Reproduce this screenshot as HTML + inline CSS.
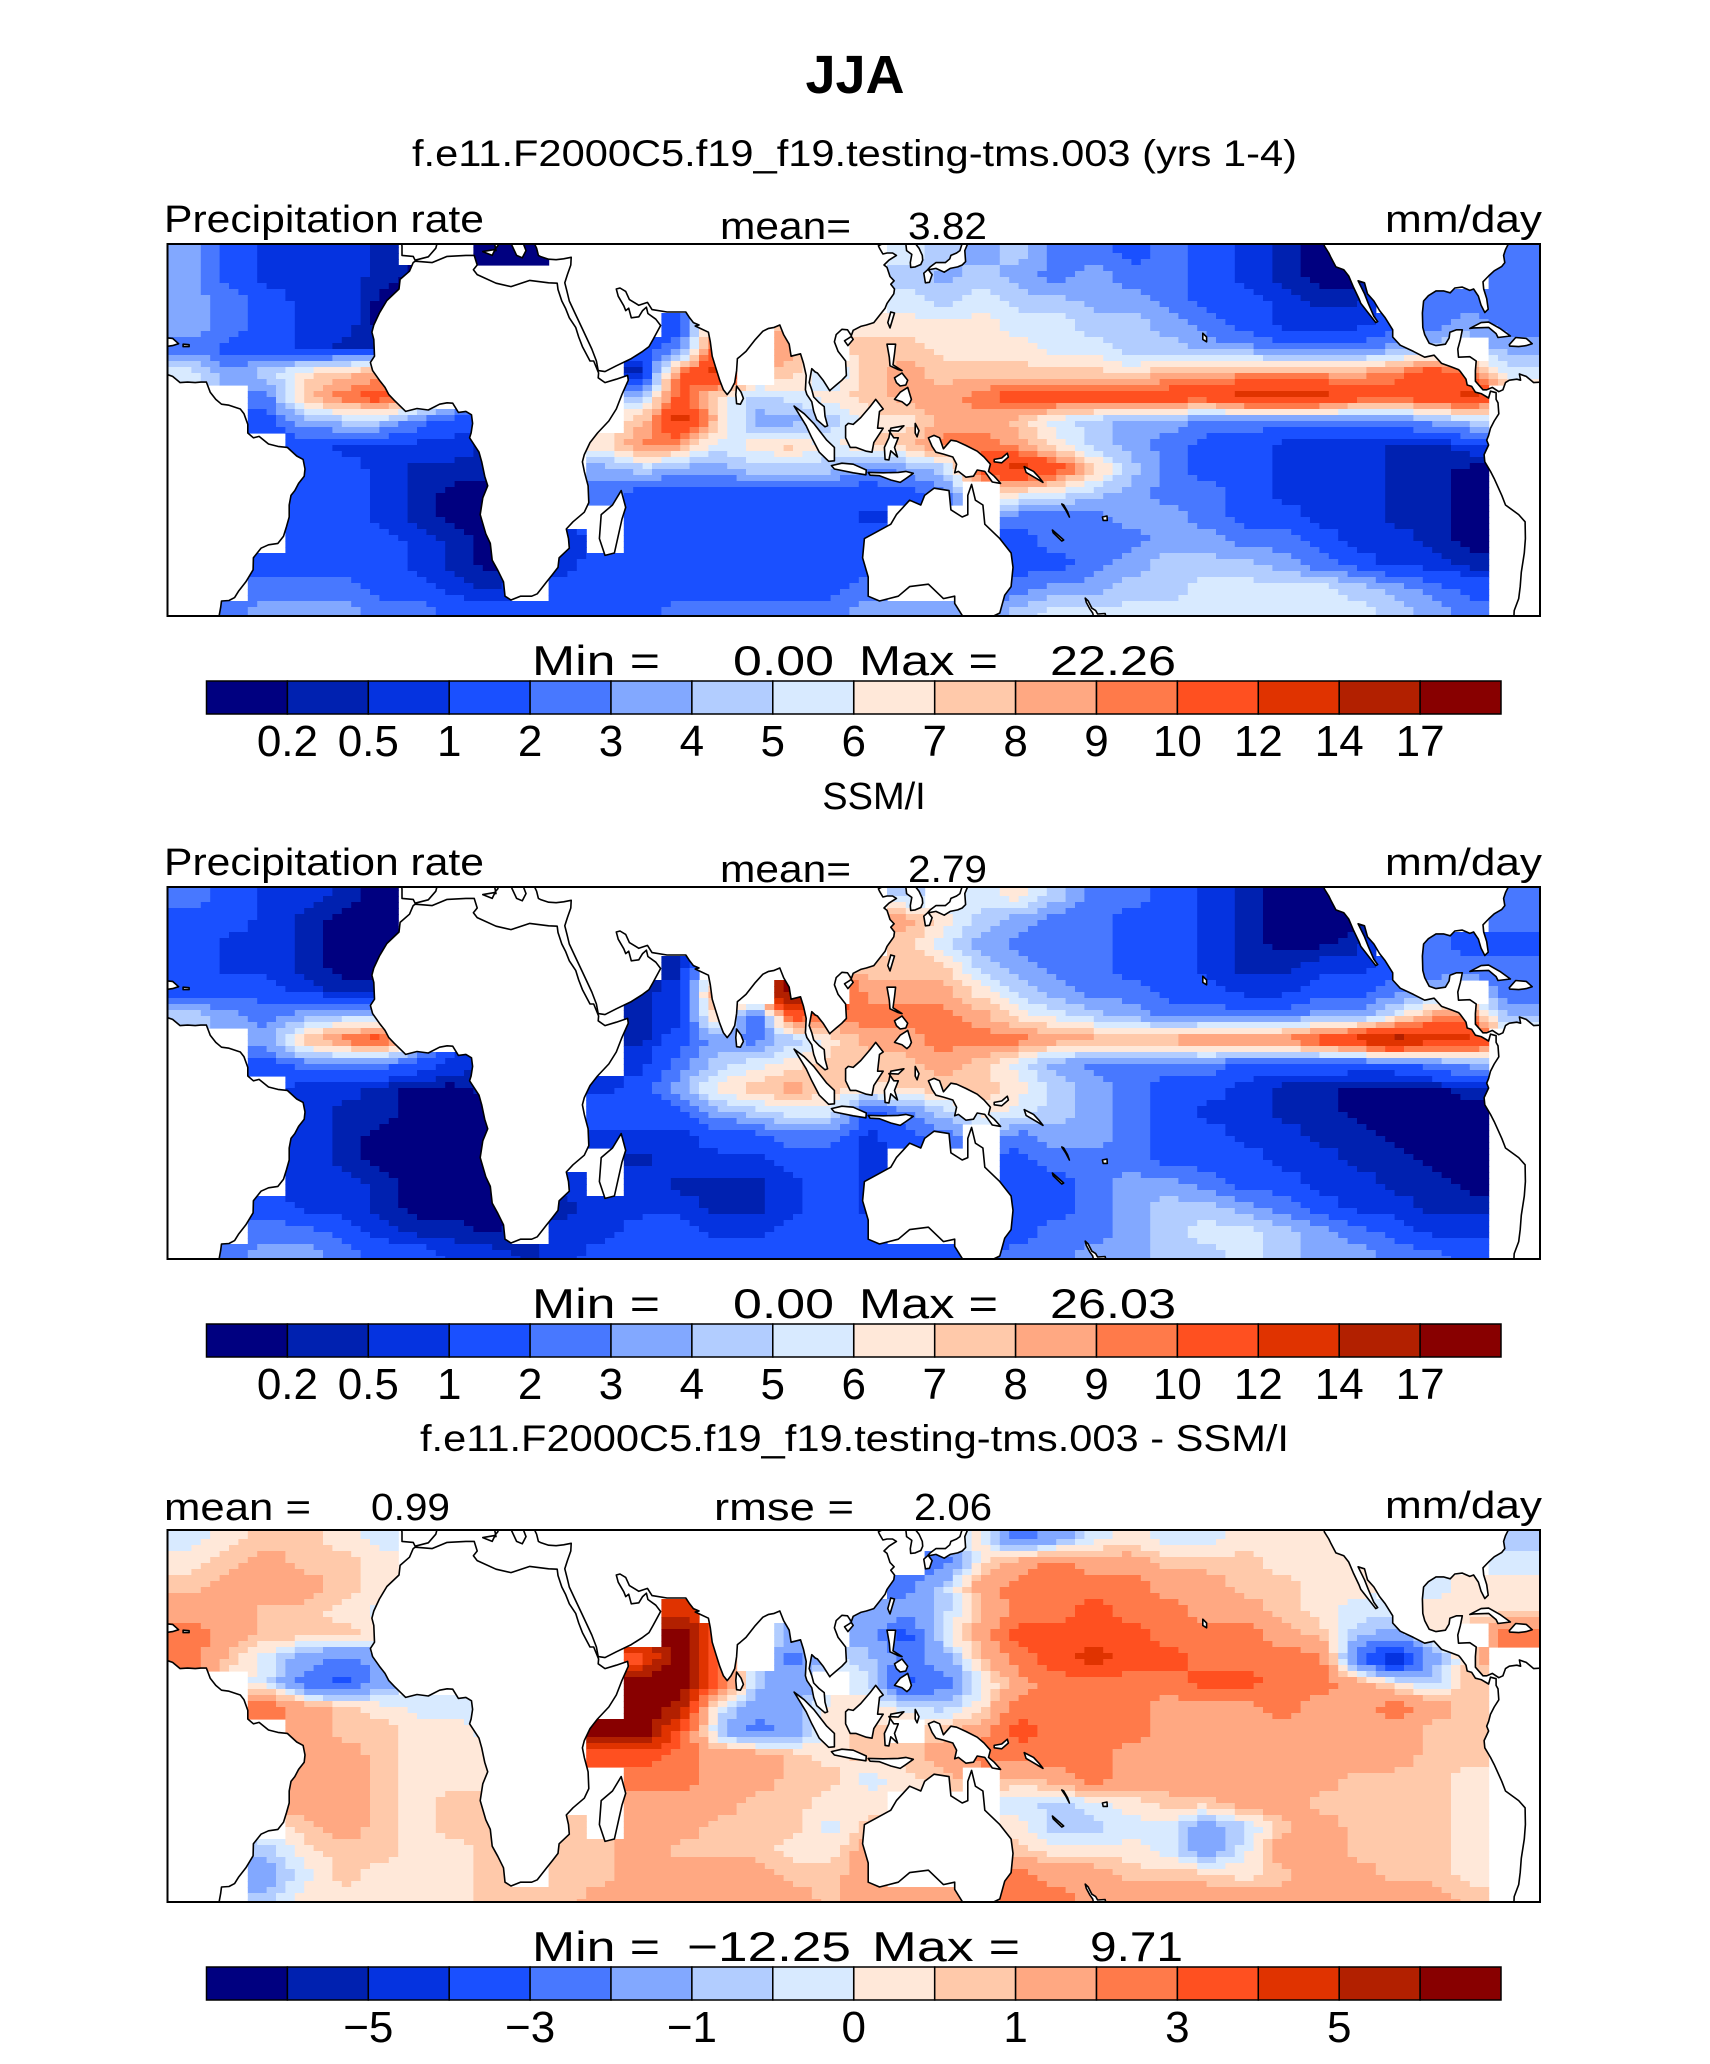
<!DOCTYPE html>
<html><head><meta charset="utf-8"><title>JJA precipitation</title>
<style>
html,body{margin:0;padding:0;background:#fff;}
svg{display:block;font-family:"Liberation Sans",sans-serif;}
</style></head>
<body>
<svg id="fig" xmlns="http://www.w3.org/2000/svg" width="1710" height="2064" viewBox="0 0 1710 2064">
<rect x="0" y="0" width="1710" height="2064" fill="#fff"/>
<text x="855" y="93" text-anchor="middle" font-size="54" font-weight="bold">JJA</text>
<text x="412" y="166" font-size="37" textLength="885" lengthAdjust="spacingAndGlyphs">f.e11.F2000C5.f19_f19.testing-tms.003 (yrs 1-4)</text>
<text x="874" y="809" text-anchor="middle" font-size="38">SSM/I</text>
<text x="420" y="1451" font-size="37" textLength="869" lengthAdjust="spacingAndGlyphs">f.e11.F2000C5.f19_f19.testing-tms.003 - SSM/I</text>
<g id="maps"></g>
</svg>
<script>
// ---------- data ----------
const precipBounds = [0.2,0.5,1,2,3,4,5,6,7,8,9,10,12,14,17];
const precipMids = [0.1,0.35,0.75,1.5,2.5,3.5,4.5,5.5,6.5,7.5,8.5,9.5,11,13,15.5,19];
const diffBounds = [-6,-5,-4,-3,-2,-1,-0.5,0,0.5,1,2,3,4,5,6];
const diffMids = [-7,-5.5,-4.5,-3.5,-2.5,-1.5,-0.75,-0.25,0.25,0.75,1.5,2.5,3.5,4.5,5.5,7];
const precipTickLabels = ["0.2","0.5","1","2","3","4","5","6","7","8","9","10","12","14","17"];
const diffTickValues = [-5,-3,-1,0,1,3,5];
const diffTickLabels = ["\u22125","\u22123","\u22121","0","1","3","5"];
const colors = ['#000080','#0021b0','#0533e0','#1a50ff','#4878ff','#82a8ff','#b2cdff','#d8eaff','#ffe8d9','#ffc9aa','#ffa882','#ff7a4a','#ff5020','#e03300','#b22000','#880000'];
// grid: columns lon -70..290 step 10, rows lat 40..-40 step 5; hex code = level, '.' = land
const modelGrid = [
"532221..00"+"........"+".765644343210....4",
"5322210..."+"........"+".6565454432100...4",
"543220...."+"........"+".7676655433211.444",
"543220...."+"...3a.9."+"888877665432223454",
"433211...."+"..34c.a."+"9988877665544456.5",
"75689a...."+"..1bd.96"+"9a999998aaaaaabcb7",
"..49bcb..."+"..6c8678"+"9aabccccccdddcccd.",
"..356643.."+"..9d9556"+"88aa9765544444456.",
"...322221."+".8ba7897"+"99bba865433222112.",
"...332111."+".5655666"+"456cdc96433222110.",
"...332100."+".4333333"+"334.8765443222110.",
"...332100."+"..333333"+"2...4445543322110.",
"...333210."+"2.333333"+"3...3444554432210.",
"..3333210."+"23333333"+"3...3345666543221.",
"..4443321."+"33333333"+"4...4556677776543.",
".455544333"+"33344444"+"55546777777777654."
];
const obsGrid = [
"432210...."+"........"+".6.7864432100....4",
"332100...."+"........"+".a865443321000...4",
"322100...."+"........"+".9754443321001.433",
"322100...."+"...1...."+"999654433211223444",
"333211...."+"..12b.f."+"aaa8654433223345.4",
"654566...."+"..1293cb"+"bbba87654444557ab5",
"..59bc...."+"..135468"+"aabbbaaaabbbcdedd.",
"..344432.."+"..246789"+"99a97544443333345.",
"...221001."+".23589a9"+"89998654332110001.",
"...211000."+".3335677"+"34687654322110000.",
"...210000."+".2223344"+"234.4554332211000.",
"...210000."+"..122233"+"2...3444333221100.",
"...221000."+"2.211123"+"2...3345543322110.",
"..3221000."+"12221123"+"2...3345665432211.",
"..4432110."+"22332233"+"3...3445677654322.",
".455433221"+"23333333"+"33334455667655443."
];
const diffGrid = [
"789987...."+"........"+"...8457877888....6",
"89a998...."+"........"+"..48abaa999888...7",
"9aaa98...."+"........"+".46abbbbaa9988.788",
"aa9987...."+"...d...."+"5569bbcbbaa9877888",
"ba9998...."+"...fc.5."+"537accccbbba9658.b",
"b97545...."+"..cfb.47"+"6459bcdccbbbb4159.",
"..7435...."+"..ffc65."+"7347abbbbccbba869.",
"..ba9877.."+"..fe7558"+"8768bbbbaaabaaba9.",
"...a99887."+".ffc6458"+"9.9acbbbaaaaaaa99.",
"...aa9888."+".ccbaa98"+"99abbbbaaaaaaaa99.",
"...aa9888."+"..bbaa99"+"789.9abaaaaaa9998.",
"...aa9899."+"..aaa998"+"8...767899aa99998.",
"...9a9899."+"9.aa9997"+"9...86677569a9998.",
"..6899889."+"99a99988"+"a...9888757aa9998.",
"..5798889."+"99aaaa99"+"a...baa99989aa998.",
"..68888899"+"9aaaaaa9"+"aaaabbaaaaaaaaaa9."
];
const headerValues = [["3.82"],["2.79"],["0.99","2.06"]];
const minMax = [["0.00","22.26"],["0.00","26.03"],["\u221212.25","9.71"]];

// ---------- land outlines (lon, lat) ----------
const land = {
 africa:[[32.3,31.2],[30,31.3],[25,31.8],[20,30.5],[16,31.2],[11,33],[10,34],[11,35],[10.2,37],[8,37],[3,36.8],[-1,35.5],[-5.5,35.8],[-6,35.5],[-7,33.7],[-9.5,32],[-9.8,30],[-13,27.6],[-15,25],[-16.5,22.5],[-17,21],[-16.5,19.5],[-16.3,16],[-17.4,14.7],[-16.8,13],[-15,11],[-13.5,9.5],[-12.5,8],[-11,6.8],[-8,4.5],[-5,5.1],[-2,4.8],[1,6],[3,6.3],[4.5,6.2],[6,4.3],[8,4.5],[9.5,3.8],[9.8,2],[9.4,0],[9,-1],[11.5,-4],[12.2,-6],[13,-9],[13.8,-11],[12.5,-13.5],[11.8,-17],[13.3,-21],[14.5,-23],[15,-26.5],[16.5,-28.6],[18,-31],[18.4,-34],[20,-34.8],[22.5,-34],[25.5,-34],[27,-33.5],[29.5,-31],[31,-29.5],[32.5,-28],[32.8,-26],[35.5,-24],[35.3,-22],[34.7,-20],[36.5,-18.5],[39.5,-16.5],[40.7,-14.5],[40.5,-11],[39.5,-8],[39,-6],[39.5,-4.5],[41,-2],[43,0],[46,2.5],[48,5],[49.5,8],[51.2,11],[51,12],[48,11.2],[45,10.5],[43.2,11.5],[43.3,12.5],[42,15],[41,15],[39,18],[38,20],[37.2,22],[35.5,24],[34.5,26],[33.5,27.5],[32.5,29.9]],
 eurasia:[[-10,42],[-9,39],[-9,37],[-6,36.8],[-5.5,36],[-2,36.7],[0,38.5],[0.5,40],[3,42],[15,42],[16,38],[15.6,38],[15,37],[12.5,37.8],[15.6,38.2],[16.5,39],[17,40.3],[18.5,40.2],[20,42],[20,39.5],[21.5,37],[23,36.5],[24,38],[23,40],[26,40.5],[26.2,39.5],[26.8,38.5],[27.3,37],[28,36.7],[30,36.2],[32,36.1],[34,36.3],[36,36.6],[35.9,35],[35,33],[34.3,31.3],[34.9,29.5],[35.5,27.5],[37,25],[38.8,22],[40,20],[41.5,17.5],[42.7,15],[43.2,13],[45,12.8],[48,14],[52,15.5],[55,17],[56.7,18],[57.8,19.5],[59.8,22.4],[58.5,23.7],[56.4,24.9],[56,26.2],[55,25.5],[54,24.2],[52,24],[51.3,26],[50.5,25.5],[50,26.5],[48.5,28.5],[48,30],[49,30.2],[50.5,29.5],[51.5,27.8],[54,26.6],[56.3,27.2],[57.5,25.7],[61.5,25.2],[66.5,25.2],[67.5,24],[68.5,23],[70,22.5],[69,22.3],[72.5,21],[73,19],[73.5,16],[74.5,13.5],[75.5,11],[76.5,9],[77.5,8],[78.5,9],[79.5,10.5],[80,13],[80.2,15.5],[81,16],[82.5,17],[85,19.5],[87,21.2],[88.5,21.8],[90,22],[91.5,22.5],[92.5,20.5],[94,18.5],[94.5,16],[97,16.5],[97.8,14.5],[98.5,12],[98.3,9],[98.7,8],[100,6.5],[100.5,4.5],[101.3,2.8],[103.5,1.3],[104.2,1.5],[103.5,3.5],[103.3,5.5],[102,6.3],[100.5,7.5],[100,9],[99.3,10.5],[100,13.4],[100.9,12.7],[101.5,12.5],[103,11],[104.8,8.8],[105,9],[106.5,10],[108,11],[109.2,12],[109,15],[107,17],[106,19],[106.5,20.5],[108,21.6],[109.5,21.5],[110.5,20.3],[111,21.4],[113,22.2],[114.5,22.5],[116.5,23],[118,24.5],[119.5,26],[120,27],[121.8,29],[122,30],[121,31],[121.9,31.7],[120.8,32.6],[120,34.5],[119.2,35],[120.5,36],[122.5,37],[121.5,37.5],[120,37.5],[118.9,37.3],[118,38.5],[117.7,39],[119,39.5],[121,40.5],[122.3,40.5],[124.2,39.9],[125,39.5],[125.2,38],[126.6,37.2],[126.2,35.5],[126.3,34.5],[127.5,34.6],[129,35.1],[129.5,36],[129.4,37],[128.5,38.5],[127.5,39.5],[128.5,40.5],[129.5,42]],
 japan:[[130.2,31.3],[131.3,31.4],[132,33],[131,34],[133,34.3],[135.2,33.5],[136.8,34.3],[138.8,34.6],[140,35],[140.9,35.7],[140.7,38],[141.5,39.5],[142,40],[142,42],[139.9,42],[140,39.5],[139.4,38],[138.5,37.5],[137,37],[136.7,36.3],[135.5,35.5],[133,35.5],[131.5,34.6],[130.8,34],[129.8,33.3]],
 taiwan:[[120.2,23],[121,25.2],[122,25],[120.8,21.9]],
 hainan:[[108.7,19.2],[110.5,20.1],[111,19.5],[109.6,18.2]],
 luzon:[[120,18.5],[122.3,18.5],[122,16.5],[121.6,14.2],[124,13],[123,13.2],[120.8,14],[120.6,15.8]],
 visayas:[[122,11.5],[124,12.5],[125.5,11],[125,10],[123.5,9.8],[122.5,10.5]],
 mindanao:[[122,7],[123.5,8.5],[125.5,9.5],[126.5,7],[126,6.2],[125.3,5.7],[124,6.5]],
 srilanka:[[80,9.8],[81.2,8.5],[81.8,7.2],[81,6],[80,6.1],[79.8,8]],
 madagascar:[[49.3,-12],[50.5,-15.5],[49.5,-18],[47.5,-25],[45,-25.5],[43.5,-22],[44,-17],[47,-15]],
 sumatra:[[95.3,5.6],[98,4],[100.5,2],[104,-1.5],[106,-3],[106,-5.8],[104.5,-5.9],[102,-4],[100,-1],[98.5,1.5]],
 java:[[105.2,-6.8],[108,-6.3],[111,-6.5],[114.5,-7.7],[114.4,-8.7],[111,-8.3],[106,-7.5]],
 lessersunda:[[115,-8.2],[119,-8.3],[123,-8.2],[125,-8],[127,-8.4],[125,-9.5],[123.5,-10.3],[121,-9.8],[118,-8.9],[115.5,-8.8]],
 borneo:[[109,1.5],[109.7,2],[111,1.8],[113,3.2],[115.5,5.5],[117,7],[119,5],[118,4.5],[117.5,1],[119,1],[116.5,-2],[116,-4],[114.5,-3.8],[111.7,-3],[110.2,-3],[109,-1]],
 sulawesi:[[119.5,-5.5],[119.3,-3],[120.5,-1],[121,1],[124.5,1.5],[123,0.4],[120.5,0.5],[121.8,-1],[123,-1],[122,-3],[122.8,-5],[121,-3.7],[120.5,-5.6]],
 halmahera:[[127.5,2],[128.5,0.5],[128,-0.8],[127.5,0]],
 newguinea:[[131,-1],[132.5,-0.5],[134,-1],[135,-3.3],[137,-1.5],[138.5,-1.7],[141,-2.6],[144,-3.8],[145.8,-5],[147.5,-6.5],[147,-8],[148.5,-9],[150.2,-10.5],[148,-10.2],[146,-8],[144,-7.7],[143,-9],[141,-9.2],[139,-8],[138,-8.3],[138.5,-6.5],[137.5,-5],[135,-4.4],[133,-4],[132,-2.8]],
 newbritain:[[148.5,-5.5],[150.5,-5.2],[152,-4.2],[152.3,-5],[150.5,-6.2],[148.5,-6]],
 solomons:[[156.5,-7],[159,-8],[160.5,-9.3],[161.5,-10.3],[160,-9.6],[157,-8.2]],
 vanuatu:[[166.5,-14.8],[167.5,-16],[168.5,-17.5],[168,-16.4],[167,-15]],
 newcaledonia:[[164,-20.2],[167,-22.3],[166.5,-22.5],[164.2,-20.8]],
 fiji:[[177.3,-17.5],[178.5,-17.3],[178.6,-18.2],[177.5,-18.2]],
 australia:[[114,-22],[113.5,-26],[115,-30],[115,-34],[118,-35],[123,-34],[126,-32],[131,-31.5],[135,-34.5],[138,-34],[138,-35.5],[140,-38],[141,-38.5],[144,-38.2],[146,-39],[150,-37.5],[151.3,-33.8],[153,-32],[153.5,-28],[153,-25],[150,-22],[146,-19],[145.5,-15],[143.5,-14],[142.5,-10.7],[141.5,-13],[141.5,-17],[140,-17.5],[137,-16],[136.5,-12],[132.5,-11.5],[130,-13],[129,-15],[126,-14],[122.5,-17],[121,-19],[117,-20.7]],
 nz:[[172.7,-34.4],[173.5,-35],[174.5,-36.5],[175.5,-37],[176,-37.7],[178,-37.6],[178.3,-38.5],[177,-39.3],[176,-40],[174.8,-41.5],[174.3,-39.5],[175,-38.5],[174.7,-37.5],[174,-36.7],[173,-35.3]],
 southamericaWest:[[-72,12.5],[-71.8,12.3],[-70,11.8],[-68,10.5],[-66,10.6],[-64,10.5],[-62.5,10.6],[-61,10.6],[-60,8.5],[-58.5,7],[-57,6],[-55,5.8],[-52,5],[-51,4],[-50,1.8],[-50,0],[-48.5,-1],[-47,-0.7],[-44.5,-2.3],[-42,-2.8],[-39.5,-3],[-37,-4.8],[-35.3,-5.5],[-34.8,-7.5],[-35,-9],[-36.5,-10.5],[-37.5,-12],[-38.5,-13],[-39,-15],[-39,-17.5],[-39.7,-19.5],[-40.5,-21.5],[-42,-23],[-44.5,-23.3],[-46.5,-24],[-48.5,-26],[-48.6,-28.5],[-50.5,-31],[-52.5,-33],[-53.5,-34.3],[-55,-34.9],[-57,-35],[-57.2,-36.3],[-57.6,-38],[-59,-38.8],[-62,-39],[-62.5,-42],[-80,-42],[-80,12.5]],
 hispaniolaW:[[-74.5,18.4],[-72.8,19.9],[-70,19.7],[-68.4,18.6],[-70,18.2],[-72,18],[-74.4,18.1]],
 puertoricoW:[[-67.2,18.5],[-65.6,18.4],[-65.6,18],[-67.2,18]]
};
const americasEast = [[-124,42],[-123.7,39],[-122.5,37.5],[-121.9,36.5],[-120.6,34.6],[-118.5,34],[-117.2,32.7],[-116,30.5],[-114.5,28],[-114,27],[-112,25],[-110,23],[-109.5,23.2],[-110.5,24.3],[-112,27],[-113,29],[-114.7,31.7],[-113,31.3],[-112.2,29],[-110.5,27.5],[-109,25.5],[-107.5,24],[-105.5,21.5],[-105.5,20],[-103.5,18.3],[-100,17],[-97,15.8],[-94.5,16.2],[-92.5,14.5],[-90,13.8],[-88,13.2],[-87.5,12.8],[-86,11.2],[-85.7,10],[-84.5,9.7],[-83.5,8.5],[-82,8.2],[-80,7.3],[-79.5,8.7],[-78,8.4],[-78,7],[-77.5,6.3],[-77.3,4],[-78.5,2.5],[-79.5,1],[-80,-0.5],[-80.5,-1.5],[-80,-2.5],[-81.2,-4.5],[-81,-6],[-79.5,-8],[-78.5,-9.5],[-76.5,-13],[-75.5,-15],[-72,-17],[-70.3,-18.5],[-70.2,-22],[-70.5,-25],[-71.3,-29],[-71.6,-32],[-72,-34.5],[-73.2,-37],[-73.5,-42],[-50,-42],[-50,10],[-61,10.6],[-62.5,10.6],[-64,10.5],[-66,10.6],[-68,10.5],[-70,11.8],[-71.8,12.3],[-71.5,11],[-72.5,11.2],[-74.5,11],[-75.5,10.5],[-76.2,9],[-77.3,8.6],[-79,9.5],[-80.5,9],[-81.5,9],[-83.5,10.8],[-83.5,13],[-83.3,15],[-85,15.9],[-88,15.8],[-88.2,17.5],[-87.5,19.5],[-87,21.5],[-88.5,21.5],[-90.3,21],[-90.5,19.8],[-91.5,18.5],[-94,18.2],[-95.8,18.7],[-97,20.5],[-97.5,22],[-97.6,25],[-97.3,27.5],[-96,28.6],[-94,29.6],[-92,29.6],[-90.2,29.2],[-89,30.2],[-87,30.4],[-85,29.7],[-84,30],[-82.7,28.5],[-82,26.6],[-81,25.1],[-80.1,25.8],[-80.5,28],[-81.3,30],[-81.5,31.5],[-80,32.7],[-78.5,33.8],[-76.5,34.7],[-75.7,35.5],[-76,37],[-75.5,38.2],[-75,39],[-74,40.5],[-50,42]];
const cubaE = [[-85,21.8],[-82,23],[-80,23.1],[-77,21.8],[-74.2,20.2],[-77.5,19.9],[-78,20.7],[-80,22],[-84,21.9]];
const hispE = [[-74.5,18.4],[-72.8,19.9],[-70,19.7],[-68.4,18.6],[-70,18.2],[-72,18],[-74.4,18.1]];
const hawaiiE = [[-156,20.8],[-155,20],[-155,19],[-156,19.5]];

// ---------- geometry ----------
const NS = "http://www.w3.org/2000/svg";
const svg = document.getElementById('maps');
const PX0 = 167.5, PX1 = 1540, PH = 372;
const plotTops = [244, 887, 1530];
const LON_SCALE = 3.76, LAT_SCALE = 4.8, LON_ORIGIN_X = 435.8;
const SUB = 4;
function X(lon){ return LON_ORIGIN_X + LON_SCALE*lon; }
function Y(lat, k){ return plotTops[k] + 189 - LAT_SCALE*lat; }
function mk(tag, attrs, parent){ const e = document.createElementNS(NS, tag); for (const a in attrs) e.setAttribute(a, attrs[a]); (parent||svg).appendChild(e); return e; }
function levelIndex(v, bounds){ let i=0; while(i<bounds.length && v>=bounds[i]) i++; return i; }
function txt(str, x1, x2, base, size, name, parent){
  const t = mk('text', {x:x1, y:base, 'font-size':size, textLength:(x2-x1), lengthAdjust:'spacingAndGlyphs', fill:'#000'}, parent);
  t.textContent = str;
  
  
  return t;
}
function decode(grid, midsArr){
  const V = grid.map(row => row.split('').map(ch => ch==='.' ? null : midsArr[parseInt(ch,16)]));
  const F = V.map(r=>r.slice());
  for (let pass=0; pass<6; pass++){
    const N = F.map(r=>r.slice());
    for (let r=0;r<F.length;r++) for (let c=0;c<F[r].length;c++){
      if (F[r][c]!==null) continue;
      let s=0,n=0;
      for (const [dr,dc] of [[1,0],[-1,0],[0,1],[0,-1]]){
        const rr=r+dr, cc=c+dc;
        if (rr>=0&&rr<F.length&&cc>=0&&cc<F[r].length&&F[rr][cc]!==null){s+=F[rr][cc];n++;}
      }
      if (n) N[r][c]=s/n;
    }
    for (let r=0;r<F.length;r++) F[r]=N[r];
  }
  for (let r=0;r<F.length;r++) for (let c=0;c<F[r].length;c++) if (F[r][c]===null) F[r][c]=0;
  return {V, F};
}
function sample(F, fr, fc){
  fr = Math.max(0, Math.min(F.length-1, fr));
  fc = Math.max(0, Math.min(F[0].length-1, fc));
  const r0=Math.floor(fr), c0=Math.floor(fc);
  const r1=Math.min(r0+1,F.length-1), c1=Math.min(c0+1,F[0].length-1);
  const tr=fr-r0, tc=fc-c0;
  return (F[r0][c0]*(1-tc)+F[r0][c1]*tc)*(1-tr) + (F[r1][c0]*(1-tc)+F[r1][c1]*tc)*tr;
}

const grids = [modelGrid, obsGrid, diffGrid];
const mids = [precipMids, precipMids, diffMids];
const bnds = [precipBounds, precipBounds, diffBounds];
const mapNames = ['model-map','obs-map','diff-map'];

for (let k=0;k<3;k++){
  const top = plotTops[k];
  const g = mk('g', {});
  
  
  const cp = mk('clipPath', {id:'clip'+k}, g);
  mk('rect', {x:PX0, y:top, width:PX1-PX0, height:PH}, cp);
  const inner = mk('g', {'clip-path':'url(#clip'+k+')'}, g);
  const cells = mk('g', {}, inner);
  
  
  const {V, F} = decode(grids[k], mids[k]);
  const nR = V.length, nC = V[0].length;
  for (let r=0;r<nR;r++){
    for (let sr=0; sr<SUB; sr++){
      const latT = 40 - 5*r - 5*sr/SUB, latB = latT - 5/SUB;
      let y0 = Y(latT,k), y1 = Y(latB,k);
      if (r===0 && sr===0) y0 -= 10;
      if (r===nR-1 && sr===SUB-1) y1 += 10;
      const fr = (r + (sr+0.5)/SUB) - 0.5;
      let run = null;
      const flush = () => {
        if (!run) return;
        const rc = mk('rect', {x:run.x0.toFixed(1), y:y0.toFixed(1), width:(run.x1-run.x0+0.6).toFixed(1), height:(y1-y0+0.6).toFixed(1), fill:colors[run.li]}, cells);
        
        
        run = null;
      };
      for (let c=0;c<nC;c++){
        if (V[r][c]===null){ flush(); continue; }
        for (let sc=0; sc<SUB; sc++){
          const lonL = -70 + 10*c + 10*sc/SUB;
          let x0 = X(lonL), x1 = X(lonL + 10/SUB);
          if (c===0 && sc===0) x0 -= 10;
          if (c===nC-1 && sc===SUB-1) x1 += 20;
          const fc = (c + (sc+0.5)/SUB) - 0.5;
          const v = sample(F, fr, fc);
          const li = levelIndex(v, bnds[k]);
          if (run && run.li===li && Math.abs(run.x1-x0)<0.01){ run.x1 = x1; }
          else { flush(); run = {x0, x1, li}; }
        }
      }
      flush();
    }
  }
  const lg = mk('g', {fill:'#fff', stroke:'#000', 'stroke-width':1.6, 'stroke-linejoin':'round'}, inner);
  
  
  const polys = Object.keys(land).map(n=>[n, land[n]]);
  polys.push(['americas', americasEast.map(p=>[p[0]+360,p[1]])]);
  polys.push(['cuba', cubaE.map(p=>[p[0]+360,p[1]])]);
  polys.push(['hispaniola', hispE.map(p=>[p[0]+360,p[1]])]);
  polys.push(['hawaii', hawaiiE.map(p=>[p[0]+360,p[1]])]);
  for (const [n, pts] of polys){
    const p = mk('polygon', {points: pts.map(q=>X(q[0]).toFixed(1)+','+Y(q[1],k).toFixed(1)).join(' ')}, lg);
    
    
  }
  const fr = mk('rect', {x:PX0, y:top, width:PX1-PX0, height:PH, fill:'none', stroke:'#000', 'stroke-width':2}, g);
  
  

  const hb = top - 12;
  if (k<2){
    txt('Precipitation rate', 164, 484, hb, 38, 'variable-label', g);
    txt('mean=', 720, 851, hb+7, 38, 'mean-label', g);
    txt(headerValues[k][0], 908, 987, hb+7, 38, 'mean-value', g);
  } else {
    txt('mean  =', 164, 311, hb+2, 38, 'mean-label', g);
    txt(headerValues[k][0], 371, 450, hb+2, 38, 'mean-value', g);
    txt('rmse  =', 714, 854, hb+2, 38, 'rmse-label', g);
    txt(headerValues[k][1], 914, 992, hb+2, 38, 'rmse-value', g);
  }
  txt('mm/day', 1385, 1542, hb, 38, 'units-label', g);

  const mb = top + PH + 59;
  txt('Min  =', 532, 660, mb, 42, 'min-label', g);
  if (k<2) txt(minMax[k][0], 733, 834, mb, 42, 'min-value', g);
  else txt(minMax[k][0], 687, 851, mb, 42, 'min-value', g);
  if (k<2){ txt('Max  =', 859, 998, mb, 42, 'max-label', g); txt(minMax[k][1], 1050, 1176, mb, 42, 'max-value', g); }
  else { txt('Max  =', 872, 1020, mb, 42, 'max-label', g); txt(minMax[k][1], 1090, 1183, mb, 42, 'max-value', g); }

  const cb = mk('g', {}, g);
  
  
  const cbx0 = 206.5, cbx1 = 1501, cby = top + PH + 65, cbh = 33;
  const bw = (cbx1-cbx0)/colors.length;
  for (let i=0;i<colors.length;i++){
    const b = mk('rect', {x:(cbx0+i*bw).toFixed(1), y:cby, width:bw.toFixed(1), height:cbh, fill:colors[i], stroke:'#000', 'stroke-width':1.5}, cb);
    
    
  }
  const tb = cby + cbh + 42;
  if (k<2){
    for (let i=0;i<precipBounds.length;i++){
      const t = mk('text', {x:(cbx0+(i+1)*bw).toFixed(1), y:tb, 'font-size':44, 'text-anchor':'middle', fill:'#000'}, cb);
      t.textContent = precipTickLabels[i];
      
      
    }
  } else {
    for (let j=0;j<diffTickValues.length;j++){
      const i = diffBounds.indexOf(diffTickValues[j]);
      const t = mk('text', {x:(cbx0+(i+1)*bw).toFixed(1), y:tb, 'font-size':44, 'text-anchor':'middle', fill:'#000'}, cb);
      t.textContent = diffTickLabels[j];
      
      
    }
  }
}
</script>
</body></html>
